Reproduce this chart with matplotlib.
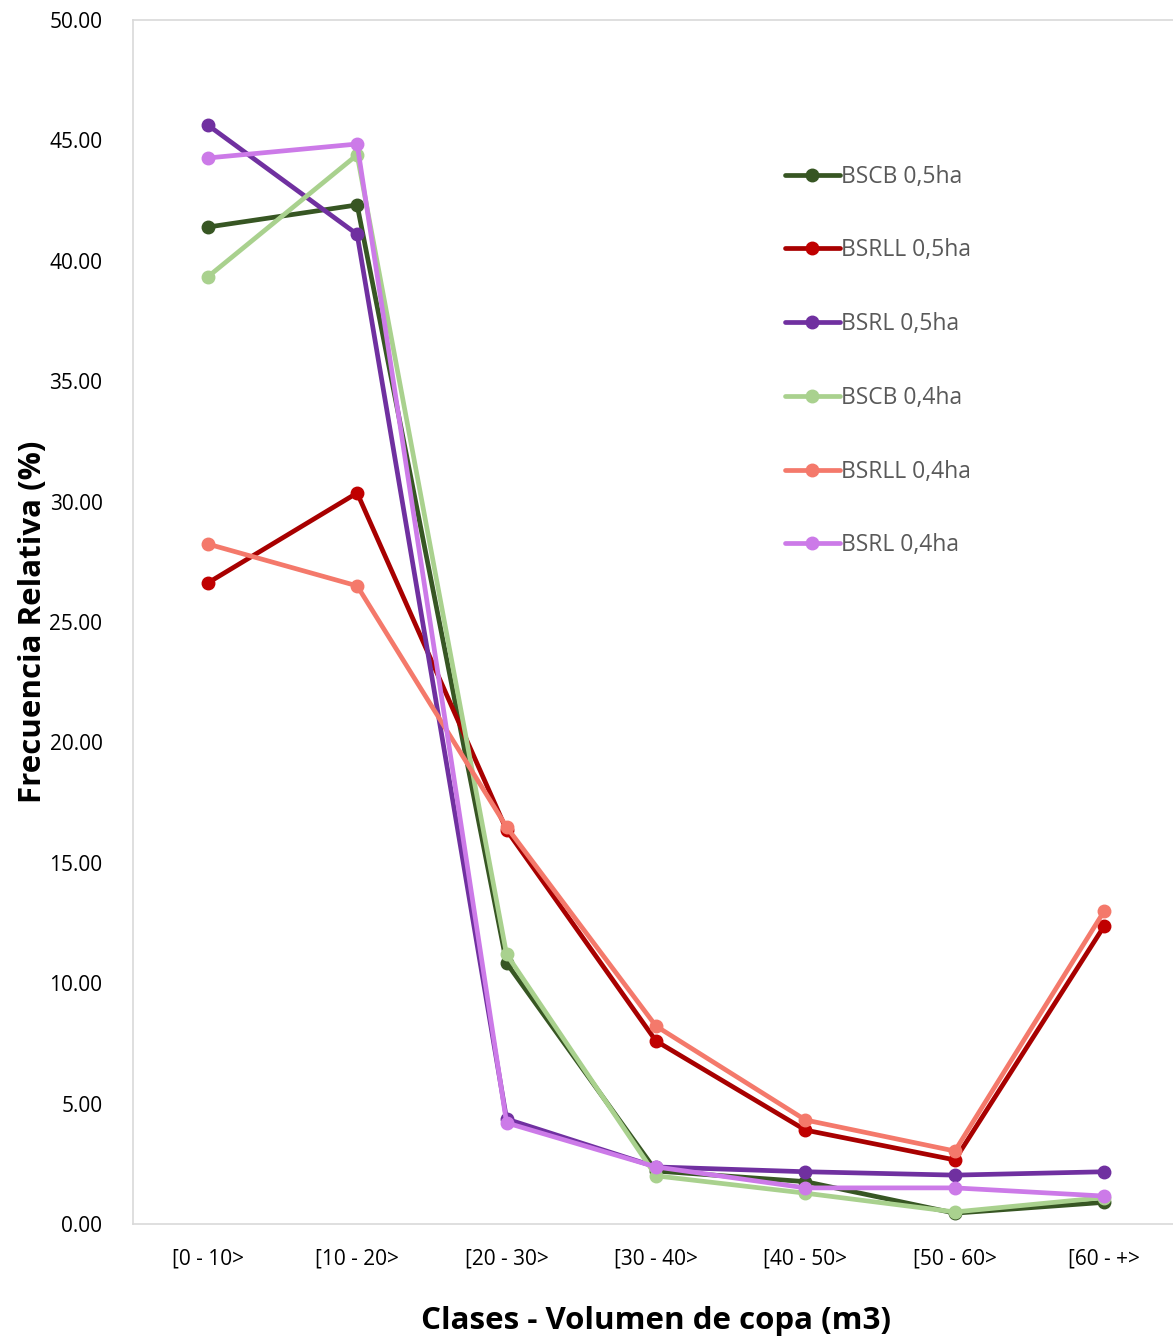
import matplotlib
matplotlib.use("Agg")
import matplotlib.pyplot as plt

plt.rcParams['font.family'] = ['Open Sans', 'DejaVu Sans']

categories = ["[0 - 10>", "[10 - 20>", "[20 - 30>", "[30 - 40>", "[40 - 50>", "[50 - 60>", "[60 - +>"]

bscb_05 = [41.40, 42.32, 10.84, 2.20, 1.76, 0.45, 0.90]
bsrll_05 = [26.62, 30.36, 16.36, 7.60, 3.90, 2.66, 12.38]
bsrl_05 = [45.64, 41.10, 4.36, 2.37, 2.17, 2.03, 2.17]
bscb_04 = [39.33, 44.40, 11.20, 2.00, 1.28, 0.50, 1.10]
bsrll_04 = [28.24, 26.50, 16.49, 8.22, 4.32, 3.03, 13.00]
bsrl_04 = [44.27, 44.85, 4.20, 2.37, 1.50, 1.50, 1.16]

series = [
    ("BSCB 0,5ha", bscb_05, "#375623", "#375623"),
    ("BSRLL 0,5ha", bsrll_05, "#A80000", "#C00000"),
    ("BSRL 0,5ha", bsrl_05, "#7030A0", "#7030A0"),
    ("BSCB 0,4ha", bscb_04, "#A9D18E", "#A9D18E"),
    ("BSRLL 0,4ha", bsrll_04, "#F4796B", "#F4796B"),
    ("BSRL 0,4ha", bsrl_04, "#CC7AE8", "#CC7AE8"),
]

W, H = 1173, 1338
fig = plt.figure(figsize=(W / 100, H / 100), dpi=100)
left, right, top, bottom = 133, 1179, 20, 1224
ax = fig.add_axes([left / W, 1 - bottom / H, (right - left) / W, (bottom - top) / H])

x = list(range(len(categories)))
for label, vals, lc, mc in series:
    ax.plot(x, vals, color=lc, lw=3.4, marker="o", markersize=9,
            markerfacecolor=mc, markeredgecolor=mc, label=label,
            solid_joinstyle="round", solid_capstyle="round")

ax.set_xlim(-0.5, 6.5)
ax.set_ylim(0, 50)
ax.set_yticks([0, 5, 10, 15, 20, 25, 30, 35, 40, 45, 50])
ax.set_yticklabels([f"{v:.2f}" for v in ax.get_yticks()])
ax.set_xticks(x)
ax.set_xticklabels(categories)
ax.tick_params(axis="both", length=0, labelsize=15, colors="#000000")
ax.tick_params(axis="y", pad=22)
ax.tick_params(axis="x", pad=18)
for s in ax.spines.values():
    s.set_color("#D9D9D9")
    s.set_linewidth(1.2)

ax.set_xlabel("Clases - Volumen de copa (m3)", fontsize=22.5, fontweight="bold", labelpad=26)
ax.set_ylabel("Frecuencia Relativa (%)", fontsize=22.5, fontweight="bold", labelpad=1)

leg = ax.legend(loc="upper left", bbox_to_anchor=(764 / W, 1 - 144 / H),
                bbox_transform=fig.transFigure, frameon=False, fontsize=16.5,
                handlelength=2.4, handletextpad=0.05, labelspacing=2.17)
for t in leg.get_texts():
    t.set_color("#595959")

fig.savefig("out.png", dpi=100, facecolor="white")
